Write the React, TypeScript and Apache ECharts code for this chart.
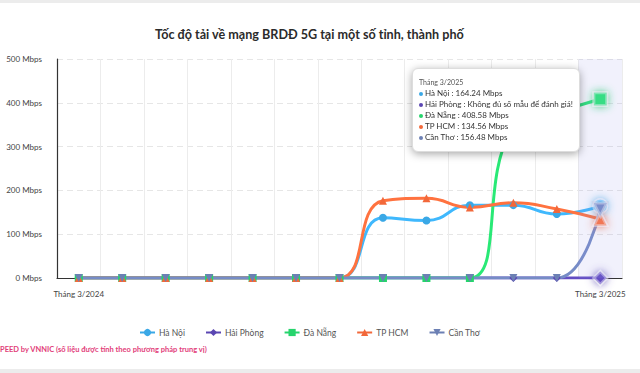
import React, { useEffect, useRef } from "react";
import * as echarts from "echarts";

const months = [
  "Tháng 3/2024", "Tháng 4/2024", "Tháng 5/2024", "Tháng 6/2024", "Tháng 7/2024",
  "Tháng 8/2024", "Tháng 9/2024", "Tháng 10/2024", "Tháng 11/2024", "Tháng 12/2024",
  "Tháng 1/2025", "Tháng 2/2025", "Tháng 3/2025",
];
const haNoi = [0, 0, 0, 0, 0, 0, 0, 137.6, 131.2, 166.1, 166.3, 146.2, 164.24];
const haiPhong = [0, 0, 0, 0, 0, 0, 0, 0, 0, 0, 0, 0, 0];
const daNang = [0, 0, 0, 0, 0, 0, 0, 0, 0, 0, 345, 378, 408.58];
const tpHcm = [0, 0, 0, 0, 0, 0, 0, 176.3, 181.9, 161.2, 171.8, 157.4, 134.56];
const canTho = [0, 0, 0, 0, 0, 0, 0, 0, 0, 0, 0, 0, 156.48];
const yTicks = [0, 100, 200, 300, 400, 500];

const seriesDefs = [
  { name: "Hà Nội", data: haNoi, color: "#3aa8e6", symbol: "circle", rotate: 0 },
  { name: "Hải Phòng", data: haiPhong, color: "#5a46b2", symbol: "diamond", rotate: 0 },
  { name: "Đà Nẵng", data: daNang, color: "#26d46c", symbol: "rect", rotate: 0 },
  { name: "TP HCM", data: tpHcm, color: "#f2683a", symbol: "triangle", rotate: 0 },
  { name: "Cần Thơ", data: canTho, color: "#6c80b4", symbol: "triangle", rotate: 180 },
];

if (typeof document !== "undefined") {
  document.body.style.margin = "0";
}

export default function App() {
  const ref = useRef<HTMLDivElement>(null);
  useEffect(() => {
    if (!ref.current) return;
    document.body.style.margin = "0";
    const chart = echarts.init(ref.current, undefined, { renderer: "svg" });
    const font = "Lato, 'Noto Sans', sans-serif";
    chart.setOption({
      animation: false,
      textStyle: { fontFamily: font },
      title: {
        text: "Tốc độ tải về mạng BRDĐ 5G tại một số tỉnh, thành phố",
        left: 150,
        top: 23,
        textStyle: { fontSize: 12.6, fontWeight: "bold", color: "#2b2b2b", fontFamily: font },
      },
      grid: { left: 57, right: 18, top: 59, bottom: 95 },
      legend: {
        top: 323,
        left: 134,
        itemWidth: 15,
        itemHeight: 9,
        itemGap: 20,
        textStyle: { fontSize: 8.5, color: "#555", fontFamily: font, padding: [0, 0, 0, -1] },
        data: seriesDefs.map((s) => s.name),
      },
      tooltip: {
        trigger: "axis",
        triggerOn: "none",
        alwaysShowContent: true,
        position: [412, 68],
        axisPointer: { type: "shadow", shadowStyle: { color: "rgba(150,150,230,0.13)" } },
        backgroundColor: "#fff",
        borderColor: "#ddd",
        borderWidth: 1,
        padding: [8, 6, 8, 6],
        extraCssText: "box-shadow: 0 2px 8px rgba(0,0,0,0.35); border-radius: 6px;",
        formatter: (params: any) => {
          const list = Array.isArray(params) ? params : [params];
          let html = `<div style="font-family:${font};font-size:7px;color:#555;line-height:11px">${list[0].axisValue}</div>`;
          list.forEach((p: any) => {
            const v = p.value === 0 ? "Không đủ số mẫu để đánh giá!" : `${p.value} Mbps`;
            html += `<div style="font-family:${font};font-size:8px;color:#333;line-height:10.9px;white-space:nowrap"><span style="display:inline-block;width:4px;height:4px;border-radius:2px;background:${p.color};margin-right:2px;vertical-align:middle"></span>${p.seriesName} : ${v}</div>`;
          });
          return html;
        },
      },
      xAxis: {
        type: "category",
        data: months,
        boundaryGap: true,
        axisLine: { lineStyle: { color: "#333", width: 1.2 } },
        axisTick: { show: false },
        axisLabel: { interval: 11, fontSize: 8, color: "#444", margin: 12, fontFamily: font },
        splitLine: { show: true, interval: 0, lineStyle: { color: "#ececec" } },
      },
      yAxis: {
        type: "value",
        min: 0,
        max: 500,
        interval: 100,
        axisLine: { show: true, lineStyle: { color: "#333", width: 1.2 } },
        axisTick: { show: false },
        axisLabel: {
          fontSize: 8,
          color: "#444",
          margin: 15,
          fontFamily: font,
          formatter: (v: number) => (yTicks.includes(v) ? `${v} Mbps` : ""),
        },
        splitLine: { lineStyle: { color: "#e6e6e6", type: [6, 4] } },
      },
      series: seriesDefs.map((s) => ({
        name: s.name,
        type: "line",
        data: s.data,
        smooth: true,
        symbol: s.symbol,
        symbolRotate: s.rotate,
        symbolSize: 8,
        showSymbol: true,
        color: s.color,
        lineStyle: { width: 3, color: s.color },
        itemStyle: { color: s.color },
        emphasis: {
          scale: 1.6,
          itemStyle: { shadowBlur: 8, shadowColor: s.color, borderColor: "rgba(255,255,255,0.4)", borderWidth: 3 },
        },
      })),
      graphic: [
        { type: "rect", left: 0, top: 0, shape: { width: 640, height: 3 }, style: { fill: "#ececec" } },
        { type: "rect", left: 0, top: 369, shape: { width: 640, height: 4 }, style: { fill: "#ececec" } },
        {
          type: "text",
          left: 0,
          top: 345,
          style: {
            text: "PEED by VNNIC (số liệu được tính theo phương pháp trung vị)",
            fill: "#e2407a",
            font: `bold 7.5px ${font}`,
          },
        },
      ],
    });
    chart.dispatchAction({ type: "showTip", seriesIndex: 0, dataIndex: 12 });
    return () => chart.dispose();
  }, []);
  return <div ref={ref} style={{ width: 640, height: 373, background: "#fff" }} />;
}
